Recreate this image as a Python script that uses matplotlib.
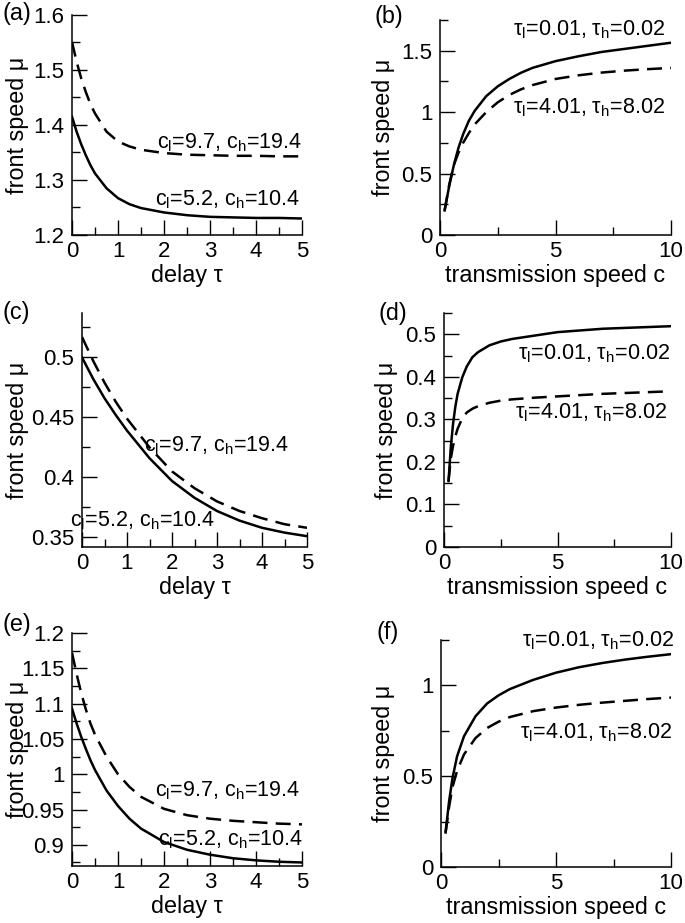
import matplotlib
matplotlib.use('Agg')
import matplotlib.pyplot as plt
import matplotlib.transforms as mtransforms
from matplotlib.ticker import MultipleLocator, FuncFormatter

plt.rcParams['font.family'] = ['Liberation Sans', 'DejaVu Sans']
plt.rcParams['mathtext.fontset'] = 'custom'
plt.rcParams['mathtext.rm'] = 'Liberation Sans'

# data ---------------------------------------------------------------------------------
# left column: front speed vs delay tau
tau_a = [0, 0.1, 0.2, 0.3, 0.4, 0.5, 0.75, 1, 1.25, 1.5, 2, 2.5, 3, 3.5, 4, 4.5, 5]
a_solid = [1.415, 1.388, 1.365, 1.345, 1.327, 1.312, 1.285, 1.267, 1.256, 1.249, 1.241, 1.236, 1.233, 1.232, 1.231, 1.231, 1.230]
a_dash = [1.551, 1.515, 1.485, 1.460, 1.438, 1.421, 1.388, 1.370, 1.361, 1.355, 1.349, 1.346, 1.345, 1.344, 1.344, 1.343, 1.343]

tau_c = [0, 0.25, 0.5, 0.75, 1, 1.5, 2, 2.5, 3, 3.5, 4, 4.5, 5]
c_solid = [0.500, 0.482, 0.466, 0.452, 0.439, 0.416, 0.397, 0.383, 0.372, 0.364, 0.358, 0.354, 0.351]
c_dash = [0.517, 0.497, 0.479, 0.463, 0.449, 0.425, 0.405, 0.391, 0.380, 0.372, 0.366, 0.361, 0.358]

tau_e = [0, 0.1, 0.2, 0.3, 0.4, 0.5, 0.75, 1, 1.25, 1.5, 2, 2.5, 3, 3.5, 4, 4.5, 5]
e_solid = [1.093, 1.072, 1.053, 1.036, 1.020, 1.006, 0.977, 0.955, 0.937, 0.923, 0.904, 0.893, 0.886, 0.881, 0.878, 0.876, 0.875]
e_dash = [1.172, 1.142, 1.115, 1.092, 1.072, 1.056, 1.025, 1.000, 0.982, 0.968, 0.951, 0.942, 0.937, 0.934, 0.932, 0.930, 0.929]

# right column: front speed vs transmission speed c
c_b = [0.2, 0.4, 0.6, 0.8, 1.0, 1.25, 1.5, 2, 2.5, 3, 3.5, 4, 5, 6, 7, 8, 9, 10]
b_solid = [0.2, 0.40, 0.57, 0.71, 0.82, 0.93, 1.01, 1.13, 1.21, 1.27, 1.32, 1.36, 1.415, 1.455, 1.49, 1.515, 1.54, 1.565]
b_dash = [0.2, 0.41, 0.57, 0.67, 0.75, 0.83, 0.90, 1.00, 1.08, 1.14, 1.185, 1.22, 1.27, 1.30, 1.322, 1.338, 1.35, 1.36]

c_d = [0.2, 0.3, 0.4, 0.5, 0.6, 0.8, 1, 1.25, 1.5, 2, 2.5, 3, 4, 5, 6, 7, 8, 9, 10]
d_solid = [0.155, 0.235, 0.29, 0.33, 0.36, 0.398, 0.424, 0.446, 0.458, 0.474, 0.483, 0.489, 0.497, 0.505, 0.509, 0.513, 0.515, 0.517, 0.519]
d_dash = [0.155, 0.208, 0.238, 0.26, 0.278, 0.302, 0.316, 0.325, 0.331, 0.339, 0.344, 0.347, 0.351, 0.354, 0.357, 0.360, 0.362, 0.364, 0.366]

c_f = [0.2, 0.35, 0.5, 0.7, 1, 1.5, 2, 2.5, 3, 4, 5, 6, 7, 8, 9, 10]
f_solid = [0.19, 0.36, 0.49, 0.61, 0.72, 0.83, 0.90, 0.945, 0.98, 1.03, 1.07, 1.10, 1.123, 1.142, 1.158, 1.172]
f_dash = [0.19, 0.33, 0.44, 0.53, 0.62, 0.71, 0.765, 0.80, 0.826, 0.858, 0.878, 0.893, 0.905, 0.915, 0.925, 0.933]

lab_c_hi = r'c$_\mathregular{l}$=9.7, c$_\mathregular{h}$=19.4'
lab_c_lo = r'c$_\mathregular{l}$=5.2, c$_\mathregular{h}$=10.4'
lab_t_lo = r'τ$_\mathregular{l}$=0.01, τ$_\mathregular{h}$=0.02'
lab_t_hi = r'τ$_\mathregular{l}$=4.01, τ$_\mathregular{h}$=8.02'

# figure ---------------------------------------------------------------------------------
W, H = 685, 923
fig = plt.figure(figsize=(W / 100, H / 100), dpi=100)
FS = 15.5   # annotations
TS = 16     # tick labels
LS = 16.8   # axis labels

def px_axes(l, t, r, b):
    return fig.add_axes([l / W, 1 - b / H, (r - l) / W, (b - t) / H])

def style(ax, xlim, ylim, xmaj, xmin, ymaj, ymin, xlabel, ylab_x):
    ax.set_xlim(*xlim)
    ax.set_ylim(*ylim)
    for s in ['top', 'right']:
        ax.spines[s].set_visible(False)
    for s in ['left', 'bottom']:
        ax.spines[s].set_linewidth(1.1)
    ax.xaxis.set_major_locator(MultipleLocator(xmaj))
    ax.xaxis.set_minor_locator(MultipleLocator(xmin))
    ax.yaxis.set_major_locator(MultipleLocator(ymaj))
    ax.yaxis.set_minor_locator(MultipleLocator(ymin))
    fmt = FuncFormatter(lambda v, p: '%g' % round(v, 4))
    ax.xaxis.set_major_formatter(fmt)
    ax.yaxis.set_major_formatter(fmt)
    ax.tick_params(which='both', direction='in', top=False, right=False, width=1.0, labelsize=TS)
    ax.tick_params(which='major', length=10.5)
    ax.tick_params(which='minor', length=5.5)
    ax.tick_params(axis='y', pad=5.5)
    ax.tick_params(axis='x', pad=4)
    ax.set_xlabel(xlabel, fontsize=LS, labelpad=2)
    ax.set_ylabel('front speed μ', fontsize=LS)
    tr = mtransforms.blended_transform_factory(fig.transFigure, ax.transAxes)
    ax.yaxis.set_label_coords(ylab_x / W, 0.5, transform=tr)

def curves(ax, x, ys, yd):
    ax.plot(x, ys, color='black', lw=1.8)
    ax.plot(x, yd, color='black', lw=1.8, dashes=(6, 3.3))

ax_a = px_axes(72, 15, 302, 235)
curves(ax_a, tau_a, a_solid, a_dash)
style(ax_a, (0, 5), (1.2, 1.6), 1, 0.5, 0.1, 0.05, 'delay τ', 29)
ax_a.text(1.0, 0.395, lab_c_hi, transform=ax_a.transAxes, ha='right', va='baseline', fontsize=FS)
ax_a.text(0.99, 0.136, lab_c_lo, transform=ax_a.transAxes, ha='right', va='baseline', fontsize=FS)

ax_b = px_axes(440, 20, 671, 235)
curves(ax_b, c_b, b_solid, b_dash)
style(ax_b, (0, 10), (0, 1.75), 5, 2.5, 0.5, 0.25, 'transmission speed c', 395)
ax_b.text(0.974, 0.93, lab_t_lo, transform=ax_b.transAxes, ha='right', va='baseline', fontsize=FS)
ax_b.text(0.974, 0.567, lab_t_hi, transform=ax_b.transAxes, ha='right', va='baseline', fontsize=FS)

ax_c = px_axes(82, 313, 307, 547)
curves(ax_c, tau_c, c_solid, c_dash)
style(ax_c, (0, 5), (0.342, 0.537), 1, 0.5, 0.05, 0.025, 'delay τ', 29)
ax_c.text(0.921, 0.407, lab_c_hi, transform=ax_c.transAxes, ha='right', va='baseline', fontsize=FS)
ax_c.text(0.591, 0.087, lab_c_lo, transform=ax_c.transAxes, ha='right', va='baseline', fontsize=FS)

ax_d = px_axes(444, 313, 671, 547)
curves(ax_d, c_d, d_solid, d_dash)
style(ax_d, (0, 10), (0, 0.55), 5, 2.5, 0.1, 0.05, 'transmission speed c', 398)
ax_d.text(0.997, 0.802, lab_t_lo, transform=ax_d.transAxes, ha='right', va='baseline', fontsize=FS)
ax_d.text(0.982, 0.55, lab_t_hi, transform=ax_d.transAxes, ha='right', va='baseline', fontsize=FS)

ax_e = px_axes(72, 633, 302, 866)
curves(ax_e, tau_e, e_solid, e_dash)
style(ax_e, (0, 5), (0.87, 1.2), 1, 0.5, 0.05, 0.025, 'delay τ', 29)
ax_e.text(0.991, 0.297, lab_c_hi, transform=ax_e.transAxes, ha='right', va='baseline', fontsize=FS)
ax_e.text(1.006, 0.09, lab_c_lo, transform=ax_e.transAxes, ha='right', va='baseline', fontsize=FS)

ax_f = px_axes(441, 640, 671, 867)
curves(ax_f, c_f, f_solid, f_dash)
style(ax_f, (0, 10), (0, 1.25), 5, 2.5, 0.5, 0.25, 'transmission speed c', 395)
ax_f.text(1.012, 0.97, lab_t_lo, transform=ax_f.transAxes, ha='right', va='baseline', fontsize=FS)
ax_f.text(1.004, 0.567, lab_t_hi, transform=ax_f.transAxes, ha='right', va='baseline', fontsize=FS)

# panel letters
for lab, x, y in [('(a)', 3, 2), ('(b)', 375, 5), ('(c)', 3, 301), ('(d)', 379, 302), ('(e)', 3, 613), ('(f)', 377, 621)]:
    fig.text(x / W, 1 - y / H, lab, ha='left', va='top', fontsize=LS)

fig.savefig('out.png', dpi=100)
